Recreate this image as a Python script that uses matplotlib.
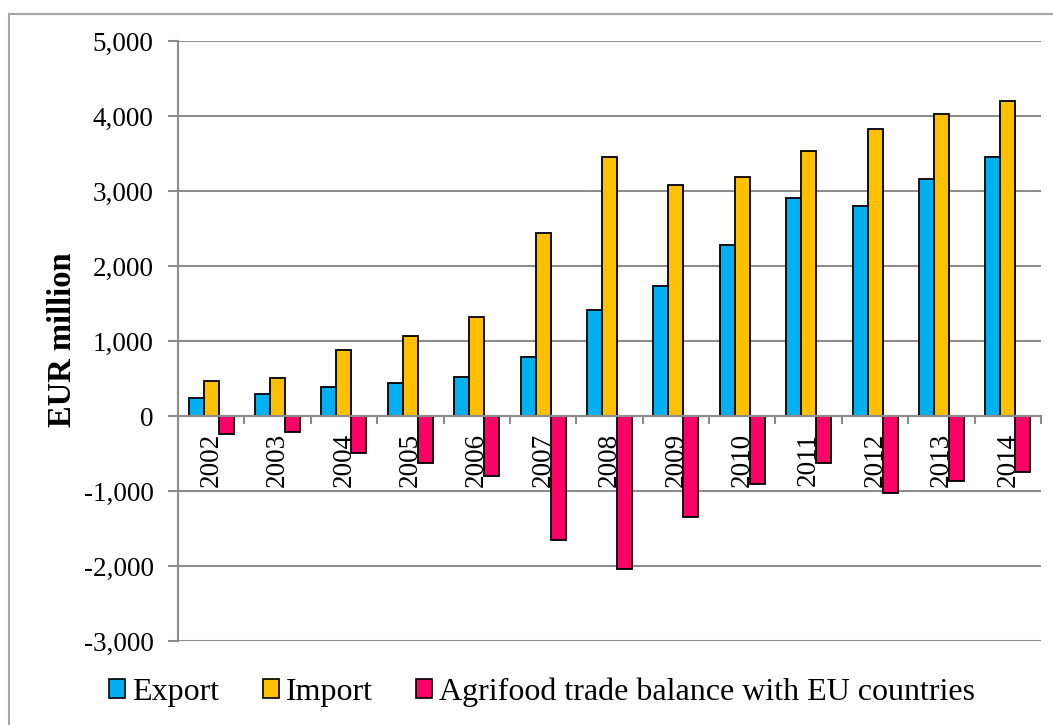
import matplotlib
matplotlib.use("Agg")
import matplotlib.pyplot as plt
import numpy as np
from matplotlib.lines import Line2D
from matplotlib.patches import Patch
from matplotlib.ticker import FuncFormatter, MultipleLocator

plt.rcParams['font.family'] = ['Liberation Serif', 'DejaVu Serif']

years = ['2002', '2003', '2004', '2005', '2006', '2007', '2008',
         '2009', '2010', '2011', '2012', '2013', '2014']
export = [236, 289, 391, 444, 524, 791, 1420, 1736, 2283, 2904, 2802, 3157, 3451]
imports = [471, 507, 884, 1071, 1324, 2444, 3460, 3083, 3187, 3531, 3824, 4029, 4197]
balance = [-235, -218, -493, -627, -800, -1653, -2040, -1347, -904, -627, -1022, -872, -746]

series_names = ['Export', 'Import', 'Agrifood trade balance with EU countries']
colors = ['#00B0F0', '#FFC000', '#FF0066']
grid_color = '#8C8C8C'

W, H = 1053, 725
fig = plt.figure(figsize=(W / 100, H / 100), dpi=100)
ax = fig.add_axes([178 / W, 1 - 641 / H, (1041 - 178) / W, (641 - 41) / H])

x = np.arange(len(years))
bw = 15 / 66.4
offsets = [-bw, 0, bw]
for vals, off, col in zip([export, imports, balance], offsets, colors):
    ax.bar(x + off, vals, width=bw, color=col, edgecolor='black',
           linewidth=1.3, zorder=3)

ax.set_xlim(-0.5, len(years) - 0.5)
ax.set_ylim(-3000, 5000)
ax.yaxis.set_major_locator(MultipleLocator(1000))
ax.yaxis.set_major_formatter(FuncFormatter(lambda v, p: f'{int(v):,}'))
ax.grid(axis='y', color=grid_color, linewidth=1.5, zorder=0)
ax.set_axisbelow(True)

for s in ['top', 'right']:
    ax.spines[s].set_visible(False)
ax.spines['left'].set_color(grid_color)
ax.spines['left'].set_linewidth(1.5)
ax.spines['bottom'].set_position(('data', 0))
ax.spines['bottom'].set_color(grid_color)
ax.spines['bottom'].set_linewidth(1.5)
ax.spines['bottom'].set_zorder(4)

ax.tick_params(axis='y', which='major', length=7, width=1.5, color=grid_color,
               labelsize=19.5, pad=10.5)
ax.set_xticks(x)
ax.set_xticklabels(years, rotation=90, fontsize=19.5)
ax.set_xticks(np.arange(len(years) + 1) - 0.5, minor=True)
ax.tick_params(axis='x', which='major', length=0, pad=12)
ax.tick_params(axis='x', which='minor', length=6, width=1.5, color=grid_color,
               direction='out')

ax.set_ylabel('EUR million', fontsize=23.5, fontweight='bold')
ax.yaxis.set_label_coords((78 - 178) / (1041 - 178), (641 - 340) / 600)

# chart frame
fig.add_artist(Line2D([9 / W, 1], [1 - 14 / H, 1 - 14 / H], color='#A6A6A6',
                      linewidth=1.5, transform=fig.transFigure))
fig.add_artist(Line2D([9 / W, 9 / W], [0, 1 - 14 / H], color='#A6A6A6',
                      linewidth=1.5, transform=fig.transFigure))

handles = [Patch(facecolor=c, edgecolor='black', linewidth=1.2) for c in colors]
fig.legend(handles, series_names, loc='center', bbox_to_anchor=(542 / W, 1 - 692 / H),
           ncol=3, frameon=False, fontsize=23, handlelength=0.5, handleheight=0.5,
           handletextpad=0.22, columnspacing=1.35, borderpad=0, borderaxespad=0)

fig.savefig('out.png', dpi=100)
